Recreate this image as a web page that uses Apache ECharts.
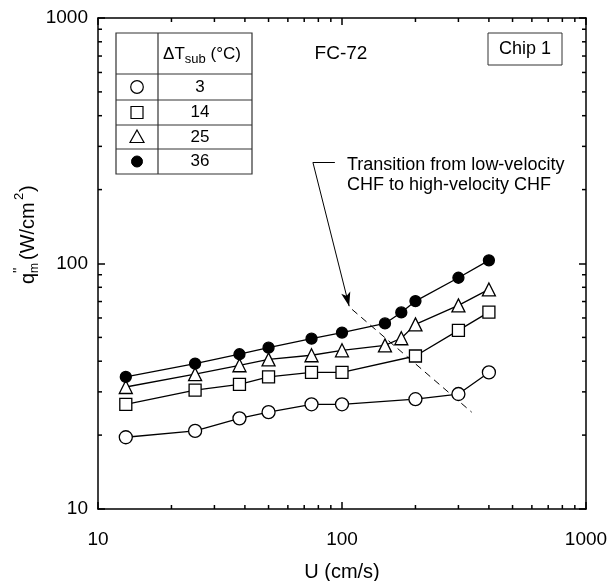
<!DOCTYPE html>
<html>
<head>
<meta charset="utf-8">
<script src="https://cdn.jsdelivr.net/npm/echarts@6/dist/echarts.min.js"></script>
<style>
  html, body { margin: 0; padding: 0; background: #fff; }
  #chart { width: 609px; height: 581px; }
</style>
</head>
<body>
<div id="chart"></div>
<script>
// 数据
var U_3 = [13, 25, 38, 50, 75, 100, 200, 300, 400];
var q_3 = [19.6, 20.8, 23.4, 24.8, 26.7, 26.7, 28.0, 29.4, 36.0];
var U_14 = [13, 25, 38, 50, 75, 100, 200, 300, 400];
var q_14 = [26.7, 30.5, 32.2, 34.5, 36.0, 36.0, 42.0, 53.4, 63.4];
var U_25 = [13, 25, 38, 50, 75, 100, 150, 175, 200, 300, 400];
var q_25 = [31.4, 35.4, 38.5, 40.7, 42.3, 44.3, 46.4, 49.6, 56.5, 67.5, 78.4];
var U_36 = [13, 25, 38, 50, 75, 100, 150, 175, 200, 300, 400];
var q_36 = [34.5, 39.1, 42.7, 45.4, 49.4, 52.3, 57.0, 63.2, 70.3, 87.5, 103];
// 过渡虚线 与 标注箭头
var transU = [110, 340];
var transQ = [65, 24.8];
var calloutU = [93.5, 76, 107];
var calloutQ = [258, 258, 67];
// 刻度
var minorTicks = [20, 30, 40, 50, 60, 70, 80, 90, 200, 300, 400, 500, 600, 700, 800, 900];
var legendRows = ['3', '14', '25', '36'];

var FONT = 'Liberation Sans';

function zip(a, b) {
    return a.map(function (v, i) { return [v, b[i]]; });
}

var chart = echarts.init(document.getElementById('chart'));

function axisBase(pos) {
    return {
        type: 'log',
        logBase: 10,
        min: 10,
        max: 1000,
        position: pos,
        axisLine: { show: true, onZero: false, lineStyle: { color: '#000', width: 1.5 } },
        axisTick: { show: true, inside: true, length: 7, lineStyle: { color: '#000', width: 1.5 } },
        splitLine: { show: false },
        minorTick: { show: false },
        axisLabel: { show: false }
    };
}
function plainLabel(v) { return String(Math.round(v)); }

var xBottom = axisBase('bottom');
xBottom.axisLabel = { show: true, fontFamily: FONT, fontSize: 19, color: '#000', margin: 21, formatter: plainLabel };
xBottom.name = 'U (cm/s)';
xBottom.nameLocation = 'middle';
xBottom.nameGap = 53;
xBottom.nameTextStyle = { fontFamily: FONT, fontSize: 20, color: '#000' };
var xTop = axisBase('top');

var yLeft = axisBase('left');
yLeft.axisLabel = { show: true, fontFamily: FONT, fontSize: 19, color: '#000', margin: 10, formatter: plainLabel };
var yRight = axisBase('right');

// 次刻度 (画在上下左右四条边上)
function minorTickX(params, api) {
    var cs = params.coordSys;
    var p = api.coord([api.value(0), 100]);
    var len = 4;
    return {
        type: 'group',
        children: [
            { type: 'line', shape: { x1: p[0], y1: cs.y + cs.height, x2: p[0], y2: cs.y + cs.height - len }, style: { stroke: '#000', lineWidth: 1.5 } },
            { type: 'line', shape: { x1: p[0], y1: cs.y, x2: p[0], y2: cs.y + len }, style: { stroke: '#000', lineWidth: 1.5 } }
        ]
    };
}
function minorTickY(params, api) {
    var cs = params.coordSys;
    var p = api.coord([100, api.value(1)]);
    var len = 4;
    return {
        type: 'group',
        children: [
            { type: 'line', shape: { x1: cs.x, y1: p[1], x2: cs.x + len, y2: p[1] }, style: { stroke: '#000', lineWidth: 1.5 } },
            { type: 'line', shape: { x1: cs.x + cs.width, y1: p[1], x2: cs.x + cs.width - len, y2: p[1] }, style: { stroke: '#000', lineWidth: 1.5 } }
        ]
    };
}

function dataSeries(name, data, symbol, size, filled) {
    return {
        name: name,
        type: 'line',
        data: data,
        symbol: symbol,
        symbolSize: size,
        showSymbol: true,
        lineStyle: { color: '#000', width: 1.3 },
        itemStyle: { color: filled ? '#000' : '#fff', borderColor: '#000', borderWidth: 1.3 },
        z: 5
    };
}

// 表格图例
var tL = 116, tR = 252, tT = 33, tB = 174, tC = 158;
var rowLines = [74, 100, 125, 149];
var rowMid = [87, 112.5, 137, 161.5];
var symX = 137, valX = 200;
var tableEls = [
    { type: 'rect', shape: { x: tL, y: tT, width: tR - tL, height: tB - tT }, style: { fill: '#fff', stroke: '#333', lineWidth: 1.2 }, z: 10 },
    { type: 'line', shape: { x1: tC, y1: tT, x2: tC, y2: tB }, style: { stroke: '#333', lineWidth: 1.2 }, z: 11 }
];
rowLines.forEach(function (y) {
    tableEls.push({ type: 'line', shape: { x1: tL, y1: y, x2: tR, y2: y }, style: { stroke: '#333', lineWidth: 1 }, z: 11 });
});
tableEls.push({
    type: 'text', x: valX + 2, y: 54, z: 12,
    style: {
        text: '{a|ΔT}{b|sub}{a| (°C)}',
        align: 'center', verticalAlign: 'middle',
        rich: {
            a: { fontFamily: FONT, fontSize: 17, color: '#000', lineHeight: 24, verticalAlign: 'middle' },
            b: { fontFamily: FONT, fontSize: 13, color: '#000', lineHeight: 24, verticalAlign: 'bottom', padding: [6, 0, 0, 0] }
        }
    }
});
legendRows.forEach(function (t, i) {
    tableEls.push({
        type: 'text', x: valX, y: rowMid[i], z: 12,
        style: { text: t, fontFamily: FONT, fontSize: 17, fill: '#000', align: 'center', verticalAlign: 'middle' }
    });
});
tableEls.push({ type: 'circle', shape: { cx: symX, cy: rowMid[0], r: 6.3 }, style: { fill: '#fff', stroke: '#000', lineWidth: 1.2 }, z: 12 });
tableEls.push({ type: 'rect', shape: { x: symX - 6, y: rowMid[1] - 6, width: 12, height: 12 }, style: { fill: '#fff', stroke: '#000', lineWidth: 1.2 }, z: 12 });
tableEls.push({ type: 'polygon', shape: { points: [[symX, rowMid[2] - 7], [symX + 7, rowMid[2] + 5.5], [symX - 7, rowMid[2] + 5.5]] }, style: { fill: '#fff', stroke: '#000', lineWidth: 1.2 }, z: 12 });
tableEls.push({ type: 'circle', shape: { cx: symX, cy: rowMid[3], r: 5.5 }, style: { fill: '#000', stroke: '#000', lineWidth: 1 }, z: 12 });

// y 轴标题 (旋转)
var yTitle = {
    type: 'group', x: 28, y: 236, rotation: Math.PI / 2,
    children: [
        { type: 'text', x: -48, y: 0, style: { text: 'q', fontFamily: FONT, fontSize: 20, fill: '#000', verticalAlign: 'middle' } },
        { type: 'text', x: -37, y: -9, style: { text: '\'\'', fontFamily: FONT, fontSize: 14, fill: '#000', verticalAlign: 'middle' } },
        { type: 'text', x: -37, y: 7, style: { text: 'm', fontFamily: FONT, fontSize: 12, fill: '#000', verticalAlign: 'middle' } },
        { type: 'text', x: -24, y: 0, style: { text: '(W/cm', fontFamily: FONT, fontSize: 20, fill: '#000', verticalAlign: 'middle' } },
        { type: 'text', x: 36, y: -9, style: { text: '2', fontFamily: FONT, fontSize: 13, fill: '#000', verticalAlign: 'middle' } },
        { type: 'text', x: 44, y: 0, style: { text: ')', fontFamily: FONT, fontSize: 20, fill: '#000', verticalAlign: 'middle' } }
    ]
};

var option = {
    backgroundColor: '#fff',
    animation: false,
    grid: { left: 98, right: 23, top: 18, bottom: 72, containLabel: false, outerBoundsMode: 'none' },
    xAxis: [xBottom, xTop],
    yAxis: [yLeft, yRight],
    series: [
        dataSeries('3', zip(U_3, q_3), 'circle', 13, false),
        dataSeries('14', zip(U_14, q_14), 'rect', 12, false),
        dataSeries('25', zip(U_25, q_25), 'triangle', 13, false),
        dataSeries('36', zip(U_36, q_36), 'circle', 11, true),
        {
            name: 'transition',
            type: 'line',
            data: zip(transU, transQ),
            symbol: 'none',
            lineStyle: { color: '#000', width: 1, type: [7, 5] },
            z: 3,
            markLine: {
                silent: true,
                animation: false,
                label: { show: false },
                lineStyle: { color: '#000', width: 1, type: 'solid' },
                data: [
                    [
                        { coord: [calloutU[0], calloutQ[0]], symbol: 'none' },
                        { coord: [calloutU[1], calloutQ[1]], symbol: 'none' }
                    ],
                    [
                        { coord: [calloutU[1], calloutQ[1]], symbol: 'none' },
                        { coord: [calloutU[2], calloutQ[2]], symbol: 'arrow', symbolSize: [7, 14] }
                    ]
                ]
            }
        },
        {
            type: 'custom',
            renderItem: minorTickX,
            data: minorTicks.map(function (v) { return [v, 100]; }),
            silent: true,
            z: 2
        },
        {
            type: 'custom',
            renderItem: minorTickY,
            data: minorTicks.map(function (v) { return [100, v]; }),
            silent: true,
            z: 2
        }
    ],
    graphic: tableEls.concat([
        yTitle,
        { type: 'text', x: 341, y: 54, style: { text: 'FC-72', fontFamily: FONT, fontSize: 19, fill: '#000', align: 'center', verticalAlign: 'middle' } },
        { type: 'rect', shape: { x: 488, y: 33, width: 74, height: 32 }, style: { fill: '#fff', stroke: '#333', lineWidth: 1 } },
        { type: 'text', x: 525, y: 49, style: { text: 'Chip 1', fontFamily: FONT, fontSize: 18, fill: '#000', align: 'center', verticalAlign: 'middle' } },
        { type: 'text', x: 347, y: 155, style: { text: 'Transition from low-velocity\nCHF to high-velocity CHF', fontFamily: FONT, fontSize: 18, lineHeight: 20, fill: '#000', align: 'left', verticalAlign: 'top' } }
    ])
};

chart.setOption(option);
</script>
</body>
</html>
